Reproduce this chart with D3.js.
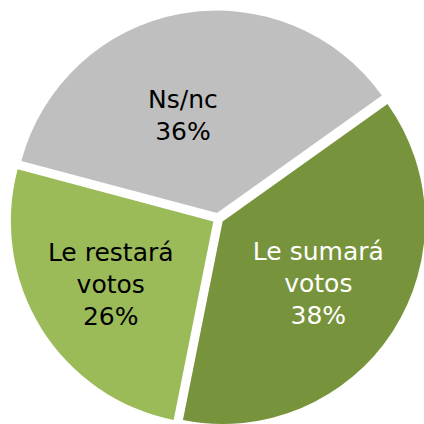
<!DOCTYPE html>
<html>
<head>
<meta charset="utf-8">
<script src="https://cdn.jsdelivr.net/npm/d3@7"></script>
<style>
  body { margin: 0; background: #fff; }
  svg { display: block; }
</style>
</head>
<body>
<div id="chart"></div>
<script>
// Data
var labels = [["Le sumará", "votos"], ["Le restará", "votos"], ["Ns/nc"]];
var values = [38, 26, 36];
var colors = ["#77933C", "#9BBB59", "#BFBFBF"];
var textColors = ["#ffffff", "#000000", "#000000"];

var svgWidth = 424;
var svgHeight = 424;
var radius = 202.5;
var explode = 5.5;

// label placement (distance from the slice tip, turn from bisector in radians)
var labelDist = [114, 120, 104];
var labelTurn = [0, 0.012, -0.154];

var svg = d3.select("#chart")
    .append("svg")
    .attr("width", svgWidth)
    .attr("height", svgHeight);

var chartGroup = svg.append("g")
    .attr("transform", "translate(218, 218.5)");

var data = values.map(function(v, i) {
    return { value: v, label: labels[i], color: colors[i], text: textColors[i] };
});

// slices go clockwise, first one starts at about 54.5 degrees
var start = 54.5 * Math.PI / 180;
var pie = d3.pie()
    .value(d => d.value)
    .sort(null)
    .startAngle(start)
    .endAngle(start + 2 * Math.PI);

var arc = d3.arc()
    .innerRadius(0)
    .outerRadius(radius);

function offset(angle, dist) {
    return [Math.sin(angle) * dist, -Math.cos(angle) * dist];
}

var slices = chartGroup.selectAll("g.slice")
    .data(pie(data))
    .enter()
    .append("g")
    .attr("class", "slice")
    .attr("transform", function(d) {
        var o = offset((d.startAngle + d.endAngle) / 2, explode);
        return `translate(${o[0]}, ${o[1]})`;
    });

slices.append("path")
    .attr("d", arc)
    .attr("fill", d => d.data.color);

var lineHeight = 32;

slices.each(function(d, i) {
    var mid = (d.startAngle + d.endAngle) / 2 + labelTurn[i];
    var c = offset(mid, labelDist[i]);
    var lines = d.data.label.concat([d.data.value + "%"]);
    var text = d3.select(this).append("text")
        .attr("text-anchor", "middle")
        .attr("font-family", "'DejaVu Sans', sans-serif")
        .attr("font-size", "25px")
        .attr("fill", d.data.text);
    var top = c[1] - (lines.length - 1) * lineHeight / 2 + 9;
    lines.forEach(function(line, j) {
        text.append("tspan")
            .attr("x", c[0])
            .attr("y", top + j * lineHeight)
            .text(line);
    });
});
</script>
</body>
</html>
